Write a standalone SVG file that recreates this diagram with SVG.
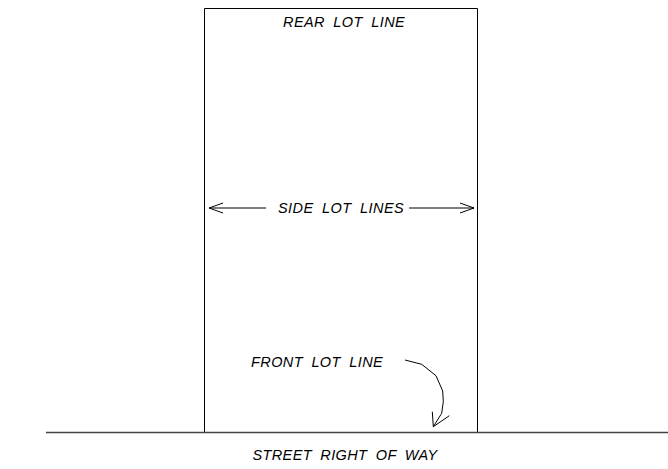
<svg xmlns="http://www.w3.org/2000/svg" width="668" height="469" viewBox="0 0 668 469">
<style>
.ln{stroke:#000;stroke-width:1;fill:none}
.gl{stroke:#444;stroke-width:1.5;fill:none}
.t{font-family:"Liberation Sans",Arial,sans-serif;font-style:italic;font-size:14.5px;fill:#000;text-anchor:middle;word-spacing:4px;letter-spacing:0.3px}
</style>
<rect width="668" height="469" fill="#fff"/>
<g id="lot">
<polyline class="ln" points="204.5,432 204.5,8.5 477.5,8.5 477.5,432"/>
</g>
<g id="street">
<line class="gl" x1="46" y1="432.5" x2="668" y2="432.5"/>
</g>
<g id="labels">
<text class="t" x="344" y="27" textLength="122" lengthAdjust="spacing">REAR LOT LINE</text>
<text class="t" x="341" y="212.5" textLength="126" lengthAdjust="spacing">SIDE LOT LINES</text>
<text class="t" x="317" y="366.5" textLength="132" lengthAdjust="spacing">FRONT LOT LINE</text>
<text class="t" x="345" y="459.5" textLength="185" lengthAdjust="spacing">STREET RIGHT OF WAY</text>
</g>
<g id="connectors">
<line class="ln" x1="209" y1="208" x2="266" y2="208"/>
<polyline class="ln" points="223,203 209,208 223,213"/>
<line class="ln" x1="409" y1="208" x2="474" y2="208"/>
<polyline class="ln" points="460,203 474,208 460,213"/>
<polyline class="ln" points="405,360 421.7,364.3 436,375.7 442.7,391 443.3,401.7 441.7,413.3 433.3,426.7"/>
<polyline class="ln" points="432.3,411.7 433.3,426.7 449.3,415.7"/>
</g>
</svg>
